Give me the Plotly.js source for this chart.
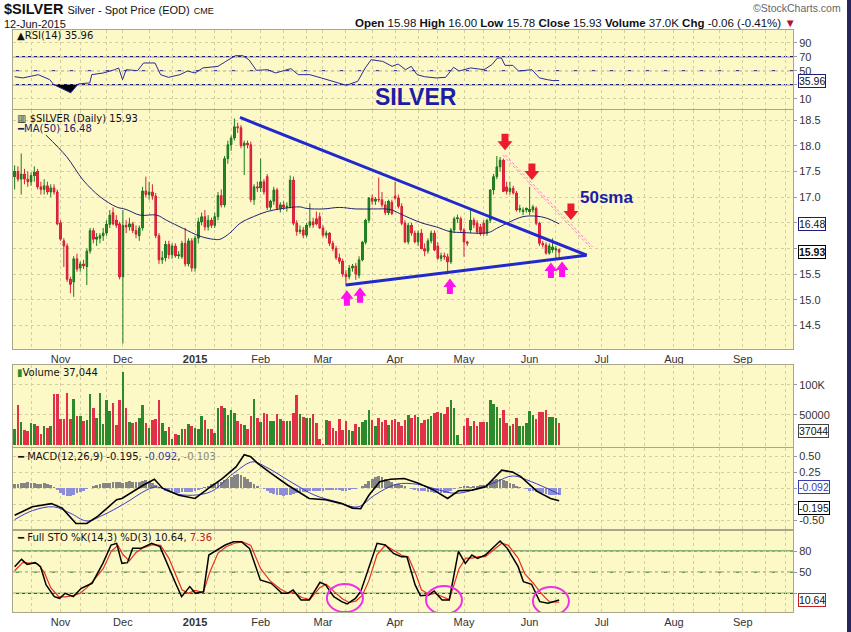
<!DOCTYPE html>
<html><head><meta charset="utf-8">
<script src="https://cdn.plot.ly/plotly-3.0.1.min.js"></script>
<style>html,body{margin:0;padding:0;background:#26265c;width:851px;height:632px;overflow:hidden}
#chart{width:847px;height:632px;background:#fff}</style></head>
<body><div id="chart"></div>
<script>
// ---- price bars (trading-day index 0 = 14-Oct-2014 ... 166 = 12-Jun-2015)
const opens = [
17.40,17.50,17.35,17.45,17.35,17.30,17.42,17.50,17.20,17.15,
17.22,17.10,17.18,17.10,16.50,16.15,16.05,15.40,15.35,15.80,
15.62,15.70,15.65,15.95,16.35,16.18,16.20,16.25,16.30,16.47,
16.70,16.55,16.48,15.45,16.45,16.42,16.48,16.35,16.25,16.40,
17.12,17.05,17.10,17.02,16.25,15.78,15.82,16.08,15.88,16.05,
15.86,15.84,16.10,15.70,16.15,15.62,16.20,16.52,16.62,16.42,
16.55,16.45,16.62,17.03,16.85,17.75,18.02,18.15,18.37,18.35,
18.00,18.05,18.02,16.95,17.20,17.18,17.30,17.40,16.80,16.92,
17.14,16.78,16.85,16.80,16.82,17.33,16.49,16.33,16.36,16.26,
16.45,16.52,16.58,16.62,16.40,16.26,16.30,16.10,16.00,15.82,
15.75,15.50,15.45,15.62,15.66,15.48,15.78,16.12,16.55,16.98,
16.92,16.96,16.95,16.85,16.70,16.90,17.02,16.98,16.82,16.49,
16.13,16.45,16.30,16.13,16.30,16.00,15.95,16.15,16.30,16.05,
15.81,15.86,15.84,15.74,16.36,16.58,16.58,16.36,16.13,16.36,
16.55,16.49,16.42,16.49,16.30,16.55,17.14,17.40,17.59,17.72,
17.20,17.11,17.17,17.08,16.75,16.72,16.75,16.72,16.75,16.78,
16.49,16.10,16.07,15.91,15.98,15.97,15.98];
const highs = [
17.62,17.60,17.85,17.55,17.50,17.48,17.60,17.55,17.30,17.35,
17.30,17.25,17.25,17.15,16.55,16.20,16.10,15.45,15.85,15.90,
15.75,15.78,16.00,16.40,16.40,16.30,16.30,16.40,16.55,16.75,
16.80,16.65,16.52,16.75,16.55,16.60,16.52,16.45,16.45,17.20,
17.40,17.30,17.25,17.08,16.30,15.95,16.15,16.15,16.10,16.10,
15.95,16.15,16.40,16.20,16.20,16.25,16.60,16.70,16.75,16.65,
16.60,16.70,17.10,17.15,17.80,18.10,18.20,18.53,18.45,18.40,
18.10,18.10,18.08,17.25,17.30,17.75,17.35,17.45,16.95,17.20,
17.18,16.90,16.92,16.90,17.42,17.40,16.55,16.45,16.42,16.50,
16.88,16.60,16.72,16.70,16.45,16.35,16.32,16.15,16.05,15.90,
15.80,15.58,15.68,15.70,15.72,15.85,16.15,16.58,17.00,17.05,
17.00,17.38,17.10,16.92,16.95,16.95,17.30,17.05,16.88,16.55,
16.50,16.50,16.35,16.35,16.38,16.10,16.20,16.35,16.35,16.12,
15.92,15.92,15.90,16.40,16.62,16.66,16.62,16.40,16.15,16.75,
16.60,16.55,16.48,16.55,16.58,17.15,17.45,17.80,17.78,17.75,
17.30,17.30,17.22,17.12,16.85,16.80,16.80,17.20,16.85,16.82,
16.52,16.15,16.12,16.10,16.20,16.05,16.00];
const lows = [
17.15,17.30,17.05,17.25,17.20,17.22,17.30,17.15,17.05,17.05,
17.05,17.00,17.05,16.45,16.15,15.64,15.35,15.13,15.06,15.55,
15.55,15.60,15.29,15.90,16.10,16.05,16.10,16.15,16.25,16.40,
16.45,16.40,15.40,14.15,16.30,16.35,16.30,16.20,16.15,16.35,
17.00,16.95,16.95,16.20,15.70,15.70,15.75,15.80,15.80,15.82,
15.80,15.80,15.65,15.65,15.55,15.55,16.10,16.45,16.35,16.35,
16.40,16.40,16.55,16.80,16.80,17.65,17.90,18.10,18.25,17.95,
17.43,17.95,16.90,16.85,17.10,17.10,17.05,16.75,16.75,16.85,
16.75,16.70,16.75,16.72,16.78,16.45,16.25,16.28,16.20,16.22,
16.40,16.40,16.45,16.38,16.22,16.20,16.05,15.95,15.78,15.70,
15.45,15.28,15.40,15.55,15.39,15.42,15.75,16.08,16.50,16.85,
16.85,16.90,16.80,16.65,16.65,16.65,16.95,16.78,16.45,16.10,
16.08,16.25,16.10,16.05,15.98,15.85,15.90,16.10,15.95,15.78,
15.75,15.78,15.55,15.70,16.30,16.50,16.30,15.84,16.05,16.30,
16.40,16.28,16.25,16.25,16.25,16.50,17.05,17.35,17.50,17.10,
17.05,17.05,17.05,16.72,16.70,16.65,16.70,16.65,16.70,16.45,
16.05,16.02,15.88,15.88,15.92,15.81,15.78];
const closes = [
17.50,17.35,17.45,17.35,17.30,17.42,17.48,17.20,17.15,17.22,
17.10,17.18,17.10,16.48,16.18,16.05,15.40,15.30,15.80,15.60,
15.70,15.66,15.95,16.35,16.18,16.22,16.25,16.30,16.47,16.65,
16.48,16.45,15.45,16.45,16.42,16.48,16.35,16.28,16.40,17.12,
17.05,17.10,17.02,16.25,15.78,15.82,16.08,15.88,16.05,15.86,
15.88,16.10,15.70,16.15,15.62,16.20,16.52,16.62,16.42,16.55,
16.45,16.62,17.03,16.85,17.75,18.02,18.15,18.37,18.35,18.00,
18.05,18.02,16.95,17.20,17.18,17.30,17.10,16.80,16.92,17.14,
16.78,16.85,16.80,16.82,17.33,16.49,16.33,16.36,16.26,16.45,
16.52,16.46,16.48,16.40,16.26,16.30,16.10,16.00,15.82,15.75,
15.50,15.45,15.62,15.66,15.50,15.78,16.12,16.55,16.98,16.92,
16.96,16.95,16.85,16.70,16.92,16.68,16.98,16.82,16.49,16.13,
16.45,16.30,16.13,16.30,16.00,15.95,16.15,16.30,15.97,15.81,
15.86,15.84,15.74,16.36,16.58,16.60,16.36,16.13,16.10,16.55,
16.46,16.32,16.29,16.30,16.55,17.14,17.40,17.59,17.72,17.11,
17.11,17.17,17.08,16.75,16.78,16.75,16.78,16.76,16.81,16.49,
16.10,16.07,15.91,16.05,16.03,16.00,15.93];
// volume in thousands
const volumeK = [
27,67,39,25,23,37,35,31,19,32,28,31,85,85,43,43,86,43,77,48,48,40,42,85,61,45,87,35,74,56,70,34,74,121,
61,39,37,39,45,66,37,28,42,44,74,37,23,30,10,18,16,27,26,35,32,28,26,48,42,27,26,20,61,65,62,50,59,53,40,35,34,27,48,76,45,38,53,51,40,40,51,44,40,40,40,53,
83,52,46,45,45,51,36,10,2,42,40,28,24,43,25,40,25,23,35,30,39,41,59,42,31,45,39,42,34,41,44,38,32,41,50,45,50,46,37,42,43,48,53,55,54,52,63,74,61,16,2,
32,45,32,40,31,39,39,39,74,68,63,45,59,37,31,35,45,31,31,37,57,50,43,55,55,59,47,46,45,37];
// MA(50)
const maX = [9.5,15.8,20.9,26,31,34,38.2,43.3,46.3,51.4,56.5,60.6,62.6,65.6,68.7,72.8,77,81.9,87,89,94,99,104,109.3,114.4,117.4,120.5,124.5,128.6,132.7,136.8,144.4,146.9,151,155,159.1,162.2,166];
const maY = [18.21,17.79,17.33,17.01,16.81,16.76,16.65,16.65,16.55,16.39,16.24,16.18,16.18,16.30,16.49,16.62,16.72,16.78,16.81,16.78,16.77,16.80,16.77,16.77,16.76,16.68,16.59,16.49,16.42,16.33,16.31,16.31,16.39,16.52,16.62,16.63,16.59,16.48];
// RSI(14)
const rsiX = [0,2.5,7.2,10.7,11.9,14.2,17.1,19.4,22.9,23.5,27,30.5,31.7,32.9,34,37.5,39.3,42.8,44.5,46.9,50.4,52.7,55,57.4,62,64.4,67.3,69.6,71.4,73.7,77.2,79.5,84.2,86.5,90,93.5,97,101.1,104.6,106.9,108.7,112.2,115.1,116.9,119.2,120.9,122.7,125,128.5,131.4,133.8,135.5,139,143.1,145.5,147.2,148.4,149.5,151.9,153.6,157.7,160,162.4,164.1,166];
const rsiY = [41.4,39.6,44.3,37.2,30.2,25,18.3,31.1,32.5,44.3,46.7,51.4,53.9,37.2,51.4,50,61,61,44.3,40.5,44.3,49.5,46.7,53.9,56.2,63.3,71.4,71.4,65.7,50.5,51.4,46.7,52.9,44.3,44.3,39.6,34.8,29.1,34.8,53.9,65.7,63.3,56.2,59.5,51.4,56.2,44.3,41.4,39.6,40.5,54.8,49.5,53.9,51.4,58.6,68.1,68.1,57.6,57.6,49.5,51.4,39.6,37.2,35.8,35.96];
const rsiLowX = [11.9,14.2,17.1,19.2];
const rsiLowY = [30,25,18.3,30];
// MACD(12,26,9)
const macdX = [0,5.4,11.2,14.5,18.7,22,25.3,31.1,32.7,35.2,39.3,42.6,45.1,50.1,55,59.2,63.3,67.5,70,72,74,78.2,83.2,89.8,94.8,99.7,103,105.5,108,111.3,114.6,118.8,122.9,127.8,132,135.3,139.4,143.6,148.5,151.8,154.3,159.3,163.4,166];
const macdY = [-0.42,-0.29,-0.24,-0.31,-0.55,-0.55,-0.44,-0.18,-0.16,-0.08,0.05,0.14,0.0,-0.11,-0.16,0.0,0.15,0.33,0.52,0.49,0.39,0.23,0.05,-0.16,-0.18,-0.24,-0.31,-0.32,-0.11,0.10,0.14,0.15,0.08,-0.03,-0.16,-0.04,-0.03,0.02,0.28,0.25,0.18,-0.05,-0.16,-0.195];
const sigX = [0,5.4,11.9,17,22,26.9,33.5,40.2,43.5,48.5,54.2,60,66.7,72.6,76.6,84.8,91.5,98.1,104.7,109.7,116.3,122.9,129.5,134.5,141.1,146.9,151.8,157.6,166];
const sigY = [-0.49,-0.35,-0.29,-0.39,-0.51,-0.42,-0.24,-0.03,0.02,-0.08,-0.11,-0.05,0.23,0.41,0.33,0.08,-0.11,-0.21,-0.29,-0.11,0.06,0.06,-0.03,-0.08,-0.01,0.10,0.19,0.10,-0.092];
const histY = [
0.06,0.07,0.08,0.08,0.09,0.08,0.08,0.07,0.07,0.08,0.07,0.05,
0.02,-0.03,-0.07,-0.10,-0.12,
-0.12,-0.10,-0.08,-0.06,-0.04,-0.02,
0.01,0.03,0.05,0.07,0.08,0.08,0.08,
0.09,0.10,0.09,0.08,0.10,0.11,0.10,0.09,0.10,0.11,0.12,0.10,
0.08,0.05,0.02,-0.01,
-0.04,-0.06,-0.07,-0.07,-0.07,-0.06,-0.06,-0.06,-0.06,-0.05,-0.03,-0.01,
0.02,0.04,0.06,0.08,0.09,0.10,0.12,
0.14,0.17,0.20,0.22,0.21,0.18,0.14,
0.10,0.07,0.04,0.01,-0.02,-0.05,-0.07,
-0.09,-0.10,-0.11,-0.12,-0.11,-0.10,-0.09,-0.08,
-0.07,-0.06,-0.06,-0.05,-0.05,-0.04,-0.04,-0.04,-0.03,-0.03,-0.03,-0.03,
-0.03,-0.04,-0.04,-0.03,-0.02,-0.01,0.01,0.03,
0.07,0.11,0.15,0.18,0.19,0.17,0.14,0.11,
0.09,0.07,0.06,0.05,0.03,0.01,-0.01,
-0.03,-0.04,-0.05,-0.05,-0.06,-0.06,-0.07,-0.07,-0.08,-0.08,-0.07,-0.05,-0.02,
0.01,0.02,0.03,0.03,0.02,0.03,0.04,0.05,0.05,
0.07,0.09,0.12,0.14,0.15,0.13,0.11,0.08,
0.06,0.04,0.02,0.00,-0.02,-0.04,
-0.05,-0.06,-0.07,-0.08,-0.09,-0.10,-0.10,-0.10,-0.103];
// Full STO
const kX = [0,2.1,3.8,6.3,7.9,9.6,12.1,13.7,15.4,17.9,20.3,23.6,26.9,29.4,31.1,32.7,34.4,36,38.5,41.8,44.3,46.8,49.3,50.9,52.6,53.4,55.1,57.6,59.2,61.7,64.2,66.7,69.1,71.6,74.9,78.2,81.5,83.2,84.9,87.3,89.8,93.1,94.8,97.3,99.7,101.4,103.9,105.5,108,110.5,113,115.5,117.9,119.6,122.1,123.7,126.2,127.9,130.3,132.5,135.3,137.4,139.4,141.1,143.5,146,148,150.2,153.5,155.1,157.6,160.1,162.6,165,166];
const kY = [57.8,68.2,61.1,63.5,57.8,31.9,15.3,12.9,20,15.3,27.1,34.2,62.5,88.5,90.9,62.5,63.5,83.8,83.8,90.9,86.2,57.8,31.9,15.3,24.8,29.5,20,22.4,74.3,81.4,88.5,93.2,93.2,83.8,38.9,34.2,20,20,24.8,10.6,10.6,35.6,31.9,15.3,8.2,4.9,12.9,22.4,55.4,90.9,88.5,76.6,71.9,71.9,31.9,16.7,17.6,23.4,10.6,10.6,79.4,62.5,74.3,69.6,74.3,86.2,94.2,83.8,57.8,36.6,32.8,8.2,5.9,9.2,10.64];
const dX = [0,2.5,4.5,7,9,11,13.5,15.5,18,20,22,24,27,29.5,31.5,33,35,37,39,42,44.5,47,49.5,51,53,55,57.5,59.5,62,64.5,67,69.5,72,75,78,81,83.5,85,87.5,90,93,95,97.5,100,102,104,106,108,110.5,113,115.5,118,120,122.5,124,126.5,128,130.5,132.5,135.5,137.5,139.5,141.5,143.5,146,148.5,150.5,153.5,155.5,158,160.5,163,166];
const dY = [52,64,63,62,50,28,15,15,17,20,28,38,55,80,88,75,66,78,84,89,88,70,42,25,20,24,21,50,77,86,91,93,88,55,37,26,20,22,14,11,28,33,22,12,7,9,17,38,75,88,81,74,72,45,25,18,20,15,11,55,70,70,72,72,82,91,88,70,48,35,20,8,7.36];
// x-axis grid positions and month labels
const gridX = [5,14,20,28,33,41,48,55,61,66,75,82,89,94,101,109,116,123,129,137,143,151,157,165,172,179,186,192,201,207,215,222,229,235];
const monthAt = {14:'Nov',33:'Dec',55:'<b>2015</b>',75:'Feb',94:'Mar',116:'Apr',137:'May',157:'Jun',179:'Jul',201:'Aug',222:'Sep'};
// drawn annotations (trading-day index, price)
const upperLine = [[68.7,18.55],[174.4,15.87]];
const lowerLine = [[101,15.29],[174.4,15.87]];
const pinkLine = [[148.8,17.82],[175.4,16.03]];
const redArrows = [[149.5,18.07],[157.7,17.49],[169.6,16.71]];
const pinkArrows = [[101.3,15.04],[105.3,15.10],[132.7,15.27],[163.5,15.58],[166.9,15.60]];
const stoCircles = [[100.7,13.3],[130.9,10.5],[163.5,9.0]];

const idx = closes.map((_, i) => i);
const GREEN = '#2b8a2b', RED = '#e2304a';
const upDay = closes.map((c, i) => c >= opens[i]);
const barColors = upDay.map(u => u ? GREEN : RED);
const bodyBase = closes.map((c, i) => Math.min(c, opens[i]));
const bodyLen = closes.map((c, i) => Math.max(Math.abs(c - opens[i]), 0.012));
const histColors = histY.map(v => v >= 0 ? '#858585' : '#8e8ed6');
const tickText = gridX.map(g => monthAt[g] || '');

const traces = [
  {type:'scatter', x:rsiLowX, y:rsiLowY, xaxis:'x', yaxis:'y', mode:'none', fill:'toself', fillcolor:'#000', hoverinfo:'skip'},
  {type:'scatter', x:rsiX, y:rsiY, xaxis:'x', yaxis:'y', mode:'lines', line:{color:'#2a2a98', width:1}, hoverinfo:'skip'},
  {type:'candlestick', x:idx, open:opens, high:highs, low:lows, close:closes, xaxis:'x2', yaxis:'y2',
   increasing:{line:{color:'#1f7a1f', width:1}, fillcolor:GREEN},
   decreasing:{line:{color:'#d8203a', width:1}, fillcolor:RED}, whiskerwidth:0, hoverinfo:'skip'},
  {type:'bar', x:idx, y:bodyLen, base:bodyBase, xaxis:'x2', yaxis:'y2', marker:{color:barColors, line:{width:0}}, width:0.72, hoverinfo:'skip'},
  {type:'scatter', x:maX, y:maY, xaxis:'x2', yaxis:'y2', mode:'lines', line:{color:'#20206e', width:1, shape:'spline'}, hoverinfo:'skip'},
  {type:'bar', x:idx, y:volumeK, xaxis:'x3', yaxis:'y3', marker:{color:barColors, line:{width:0}}, width:0.78, hoverinfo:'skip'},
  {type:'bar', x:idx, y:histY, xaxis:'x4', yaxis:'y4', marker:{color:histColors, line:{width:0}}, width:0.85, hoverinfo:'skip'},
  {type:'scatter', x:sigX, y:sigY, xaxis:'x4', yaxis:'y4', mode:'lines', line:{color:'#3a3ac8', width:1, shape:'spline'}, hoverinfo:'skip'},
  {type:'scatter', x:macdX, y:macdY, xaxis:'x4', yaxis:'y4', mode:'lines', line:{color:'#000', width:1.6}, hoverinfo:'skip'},
  {type:'scatter', x:dX, y:dY, xaxis:'x5', yaxis:'y5', mode:'lines', line:{color:'#e8301e', width:1.2}, hoverinfo:'skip'},
  {type:'scatter', x:kX, y:kY, xaxis:'x5', yaxis:'y5', mode:'lines', line:{color:'#000', width:1.5}, hoverinfo:'skip'}
];

const gridCol = '#d4cea4', lineCol = '#aaa68e';
function xax(anchor, labels) {
  return {anchor:anchor, domain:[0,1], range:[-0.5,237.3], tickmode:'array', tickvals:gridX, ticktext:tickText,
    showticklabels:labels, ticks:'', showgrid:true, gridcolor:gridCol, griddash:'dot', gridwidth:1,
    showline:true, linecolor:lineCol, mirror:true, zeroline:false, fixedrange:true,
    tickfont:{size:11, color:'#333', family:'Liberation Sans, Arial, sans-serif'}, rangeslider:{visible:false}};
}
function yax(anchor, dom, rng, vals, txt) {
  return {anchor:anchor, domain:dom, range:rng, side:'right', tickmode:'array', tickvals:vals, ticktext:txt,
    ticks:'outside', ticklen:3, tickcolor:'#999', showgrid:true, gridcolor:gridCol, griddash:'dot',
    showline:true, linecolor:lineCol, mirror:true, zeroline:false, fixedrange:true,
    tickfont:{size:11, color:'#333', family:'Liberation Sans, Arial, sans-serif'}};
}
const px = v => (v - 13) / 780;
const py = v => (612 - v) / 582;

const shapes = [];
function hline(xr, yr, y, color, dash, w) {
  shapes.push({type:'line', xref:xr+' domain', yref:yr, x0:0, x1:1, y0:y, y1:y, line:{color:color, width:w||1.2, dash:dash||'solid'}, layer:'below'});
}
hline('x','y',70,'#1c1c7a'); hline('x','y',30,'#1c1c7a'); hline('x','y',50,'#1c1c7a','dashdot',1);
hline('x5','y5',80,'#1e6b1e'); hline('x5','y5',20,'#1e6b1e'); hline('x5','y5',50,'#1e6b1e','dashdot',1);
[upperLine, lowerLine].forEach(l => shapes.push({type:'line', xref:'x2', yref:'y2', x0:l[0][0], y0:l[0][1], x1:l[1][0], y1:l[1][1], line:{color:'#2128cc', width:3}}));
[0, 0.8].forEach(off => shapes.push({type:'line', xref:'x2', yref:'y2', x0:pinkLine[0][0]+off, y0:pinkLine[0][1], x1:pinkLine[1][0]+off, y1:pinkLine[1][1], line:{color:'#ff80cc', width:1, dash:'3px,2px'}}));
redArrows.forEach(a => shapes.push({type:'path', xref:'x2', yref:'y2', xsizemode:'pixel', ysizemode:'pixel', xanchor:a[0], yanchor:a[1],
  path:'M-3.5,8.5 L3.5,8.5 L3.5,1 L7.5,1 L0,-8 L-7.5,1 L-3.5,1 Z', fillcolor:'#ec1c2c', line:{width:0}}));
pinkArrows.forEach(a => shapes.push({type:'path', xref:'x2', yref:'y2', xsizemode:'pixel', ysizemode:'pixel', xanchor:a[0], yanchor:a[1],
  path:'M-3,-8 L3,-8 L3,-1 L6.5,-1 L0,7.5 L-6.5,-1 L-3,-1 Z', fillcolor:'#ff10f0', line:{width:0}}));
stoCircles.forEach(c => shapes.push({type:'circle', xref:'x5', yref:'y5', xsizemode:'pixel', ysizemode:'pixel', xanchor:c[0], yanchor:c[1],
  x0:-18, x1:18, y0:-14, y1:14, line:{color:'#f030e8', width:2}}));

const LF = 'DejaVu Sans, Verdana, sans-serif';
const AF = 'Liberation Sans, Arial, sans-serif';
const NF = 'Liberation Sans Narrow, Liberation Sans, Arial, sans-serif';
function ann(x, y, text, opt) {
  return Object.assign({xref:'paper', yref:'paper', x:px(x), y:py(y), text:text, showarrow:false, xanchor:'left', yanchor:'middle',
    font:{family:LF, size:10, color:'#111'}}, opt||{});
}
function box(yr, y, text, border, opt) {
  return Object.assign({xref:'paper', yref:yr, x:1.006, y:y, xanchor:'left', yanchor:'middle', text:text, showarrow:false,
    bgcolor:'#fff', bordercolor:border, borderwidth:1, borderpad:0, font:{family:AF, size:10.5, color:'#111'}}, opt||{});
}
const annotations = [
  ann(3, 0, '<b>$SILVER</b> <span style="font-size:11px">Silver - Spot Price (EOD)</span> <span style="font-size:9px">CME</span>', {yanchor:'top', borderpad:0, font:{family:NF, size:14.5, color:'#111'}}),
  ann(3, 31, '12-Jun-2015', {yanchor:'bottom', borderpad:0, font:{family:NF, size:11, color:'#111'}}),
  ann(798, 23, '<b>Open</b> 15.98 <b>High</b> 16.00 <b>Low</b> 15.78 <b>Close</b> 15.93 <b>Volume</b> 37.0K <b>Chg</b> -0.06 (-0.41%) <span style="color:#b01030">▼</span>', {xanchor:'right', font:{family:NF, size:11.5, color:'#111'}}),
  ann(843, 8, '©StockCharts.com', {xanchor:'right', font:{family:NF, size:10.5, color:'#666'}}),
  ann(15, 36, '▲RSI(14) 35.96'),
  ann(15, 118, '▥ $SILVER (Daily) 15.93'),
  ann(15, 129, '<span style="color:#20206e">━</span>MA(50) 16.48', {font:{family:LF, size:10, color:'#20206e'}}),
  ann(15, 372, '<span style="color:#2b8a2b">▮</span>Volume 37,044'),
  ann(15, 456, '━ MACD(12,26,9) -0.195, <span style="color:#3a3ab0">-0.092</span>, <span style="color:#888">-0.103</span>'),
  ann(15, 537, '━ Full STO %K(14,3) %D(3) 10.64, <span style="color:#c02020">7.36</span>'),
  {xref:'x', yref:'y', x:122.5, y:13, text:'<b>SILVER</b>', showarrow:false, font:{family:AF, size:23, color:'#1c1ca8'}},
  {xref:'x2', yref:'y2', x:180.5, y:17.0, text:'<b>50sma</b>', showarrow:false, font:{family:AF, size:17, color:'#1c1ca8'}},
  box('y', 35.96, '35.96', '#1c1c7a'),
  box('y2', 16.48, '16.48', '#1c1c7a'),
  box('y2', 15.93, '<b>15.93</b>', '#000'),
  box('y3', 35.5, '37044', '#444', {yanchor:'top'}),
  box('y4', -0.092, '-0.092', '#3a3ab0', {yanchor:'bottom', font:{family:AF, size:10.5, color:'#3a3ab0'}}),
  box('y4', -0.195, '-0.195', '#000', {yanchor:'top'}),
  box('y5', 10.64, '10.64', '#c02020')
];

const layout = {
  width:847, height:632, margin:{l:13, r:54, t:30, b:20},
  paper_bgcolor:'#ffffff', plot_bgcolor:'#fcf9c6', showlegend:false, bargap:0, barmode:'overlay',
  font:{family:AF, size:11, color:'#222'},
  xaxis:xax('y', false), xaxis2:xax('y2', true), xaxis3:xax('y3', false), xaxis4:xax('y4', false), xaxis5:xax('y5', true),
  yaxis: yax('x', [0.8643,1.0], [-4.7,108.1], [10,30,50,70,90], ['10','','50','70','90']),
  yaxis2: yax('x2', [0.4519,0.8625], [14.045,18.695], [14.5,15,15.5,16,16.5,17,17.5,18,18.5], ['14.5','15.0','15.5','','','17.0','17.5','18.0','18.5']),
  yaxis3: yax('x3', [0.2835,0.4244], [-3.3,133], [50,100], ['50000','100K']),
  yaxis4: yax('x4', [0.1426,0.2818], [-0.635,0.625], [-0.5,-0.25,0,0.25,0.5], ['-0.50','','','0.25','0.50']),
  yaxis5: yax('x5', [0,0.1392], [-6.5,108.4], [20,50,80], ['','50','80']),
  shapes:shapes, annotations:annotations
};
Plotly.newPlot('chart', traces, layout, {staticPlot:true, displayModeBar:false});
</script></body></html>
